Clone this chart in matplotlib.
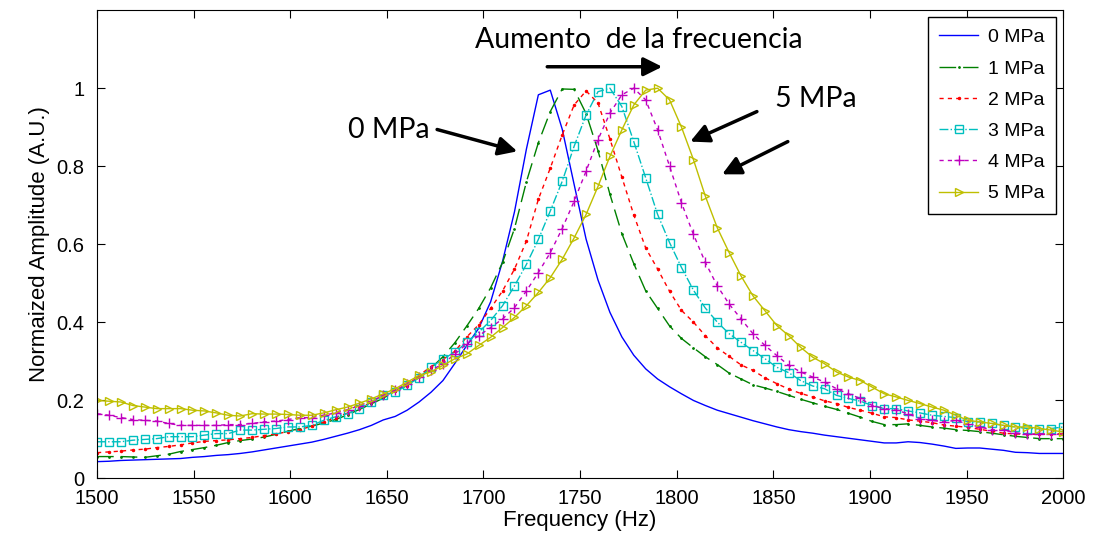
import numpy as np
import matplotlib
matplotlib.use("Agg")
import matplotlib.pyplot as plt

plt.rcParams["font.family"] = ["Liberation Sans", "DejaVu Sans"]

# frequency sweep (82 samples, 1500-2000 Hz)
freq = np.linspace(1500, 2000, 82)

amp_0mpa = [0.042, 0.043, 0.045, 0.046, 0.047, 0.048, 0.049, 0.050, 0.053, 0.055,
            0.058, 0.060, 0.063, 0.067, 0.072, 0.077, 0.082, 0.087, 0.092, 0.099,
            0.107, 0.115, 0.124, 0.135, 0.149, 0.158, 0.174, 0.195, 0.220, 0.250,
            0.294, 0.340, 0.384, 0.452, 0.556, 0.683, 0.844, 0.983, 0.995, 0.895,
            0.753, 0.613, 0.508, 0.425, 0.362, 0.315, 0.280, 0.254, 0.234, 0.216,
            0.199, 0.186, 0.174, 0.165, 0.156, 0.147, 0.139, 0.131, 0.124, 0.119,
            0.115, 0.110, 0.106, 0.102, 0.098, 0.094, 0.090, 0.090, 0.093, 0.091,
            0.087, 0.082, 0.076, 0.077, 0.077, 0.074, 0.071, 0.066, 0.065, 0.063,
            0.063, 0.063]

amp_1mpa = [0.055, 0.055, 0.055, 0.054, 0.053, 0.057, 0.061, 0.068, 0.073, 0.078,
            0.084, 0.091, 0.096, 0.100, 0.105, 0.112, 0.120, 0.127, 0.133, 0.141,
            0.150, 0.162, 0.176, 0.190, 0.205, 0.222, 0.239, 0.258, 0.282, 0.311,
            0.347, 0.390, 0.435, 0.488, 0.553, 0.640, 0.760, 0.860, 0.940, 0.998,
            0.997, 0.935, 0.840, 0.728, 0.627, 0.550, 0.480, 0.435, 0.390, 0.358,
            0.334, 0.311, 0.291, 0.269, 0.254, 0.239, 0.231, 0.222, 0.212, 0.202,
            0.193, 0.184, 0.176, 0.166, 0.156, 0.145, 0.137, 0.137, 0.139, 0.135,
            0.131, 0.128, 0.124, 0.122, 0.119, 0.115, 0.111, 0.107, 0.104, 0.101,
            0.101, 0.101]

amp_2mpa = [0.065, 0.067, 0.069, 0.072, 0.074, 0.078, 0.081, 0.085, 0.090, 0.094,
            0.096, 0.098, 0.101, 0.104, 0.109, 0.113, 0.119, 0.124, 0.133, 0.144,
            0.155, 0.167, 0.179, 0.194, 0.210, 0.223, 0.237, 0.263, 0.286, 0.304,
            0.325, 0.362, 0.393, 0.435, 0.480, 0.536, 0.608, 0.715, 0.795, 0.880,
            0.957, 0.993, 0.962, 0.870, 0.772, 0.675, 0.590, 0.536, 0.479, 0.430,
            0.400, 0.365, 0.334, 0.312, 0.290, 0.276, 0.257, 0.242, 0.228, 0.217,
            0.208, 0.198, 0.191, 0.181, 0.174, 0.166, 0.157, 0.155, 0.149, 0.146,
            0.142, 0.136, 0.133, 0.130, 0.125, 0.120, 0.115, 0.113, 0.112, 0.112,
            0.113, 0.114]

amp_3mpa = [0.093, 0.093, 0.093, 0.097, 0.099, 0.101, 0.106, 0.106, 0.106, 0.110,
            0.114, 0.114, 0.123, 0.123, 0.125, 0.127, 0.131, 0.131, 0.135, 0.148,
            0.157, 0.165, 0.178, 0.195, 0.212, 0.220, 0.238, 0.257, 0.284, 0.305,
            0.323, 0.348, 0.374, 0.404, 0.442, 0.493, 0.548, 0.612, 0.685, 0.761,
            0.851, 0.931, 0.991, 1.000, 0.953, 0.863, 0.770, 0.676, 0.604, 0.540,
            0.482, 0.436, 0.400, 0.370, 0.348, 0.327, 0.306, 0.284, 0.270, 0.250,
            0.236, 0.229, 0.212, 0.204, 0.197, 0.186, 0.178, 0.178, 0.172, 0.167,
            0.161, 0.158, 0.155, 0.144, 0.144, 0.140, 0.135, 0.131, 0.127, 0.126,
            0.127, 0.131]

amp_4mpa = [0.165, 0.161, 0.155, 0.150, 0.148, 0.146, 0.140, 0.135, 0.135, 0.135,
            0.135, 0.137, 0.137, 0.140, 0.144, 0.146, 0.150, 0.155, 0.155, 0.161,
            0.167, 0.175, 0.186, 0.197, 0.212, 0.225, 0.242, 0.259, 0.276, 0.293,
            0.318, 0.344, 0.365, 0.386, 0.408, 0.437, 0.480, 0.527, 0.578, 0.640,
            0.710, 0.787, 0.868, 0.936, 0.983, 1.000, 0.970, 0.893, 0.800, 0.706,
            0.625, 0.553, 0.493, 0.446, 0.408, 0.370, 0.340, 0.314, 0.289, 0.272,
            0.259, 0.246, 0.229, 0.216, 0.204, 0.186, 0.178, 0.174, 0.165, 0.152,
            0.148, 0.144, 0.148, 0.138, 0.131, 0.124, 0.123, 0.116, 0.112, 0.114,
            0.112, 0.112]

amp_5mpa = [0.199, 0.197, 0.195, 0.186, 0.182, 0.178, 0.178, 0.178, 0.174, 0.172,
            0.167, 0.161, 0.159, 0.165, 0.164, 0.164, 0.163, 0.161, 0.161, 0.167,
            0.175, 0.182, 0.192, 0.203, 0.216, 0.229, 0.246, 0.263, 0.272, 0.289,
            0.306, 0.318, 0.340, 0.361, 0.386, 0.412, 0.442, 0.476, 0.514, 0.561,
            0.616, 0.676, 0.748, 0.825, 0.893, 0.957, 0.995, 1.000, 0.970, 0.900,
            0.817, 0.723, 0.642, 0.578, 0.518, 0.467, 0.429, 0.391, 0.365, 0.335,
            0.310, 0.293, 0.272, 0.259, 0.250, 0.233, 0.216, 0.208, 0.199, 0.191,
            0.182, 0.174, 0.161, 0.148, 0.144, 0.140, 0.135, 0.131, 0.131, 0.127,
            0.123, 0.118]

labels = ["0 MPa", "1 MPa", "2 MPa", "3 MPa", "4 MPa", "5 MPa"]

fig, ax = plt.subplots(figsize=(11.04, 5.38), dpi=100)
fig.subplots_adjust(left=0.0879, right=0.963, bottom=0.1115, top=0.981)

ax.plot(freq, amp_0mpa, color="b", lw=1.0, label=labels[0])
ax.plot(freq, amp_1mpa, color=(0, 0.5, 0), lw=1.0, ls=(0, (12, 5)),
        marker=".", ms=2, label=labels[1])
ax.plot(freq, amp_2mpa, color="r", lw=1.0, ls=(0, (3, 3)),
        marker=".", ms=3, label=labels[2])
ax.plot(freq, amp_3mpa, color=(0, 0.75, 0.75), lw=1.0, ls="-.",
        marker="s", ms=6, mfc="none", mew=1.0, label=labels[3])
ax.plot(freq, amp_4mpa, color=(0.75, 0, 0.75), lw=1.0, ls=(0, (3, 3)),
        marker="+", ms=7, mew=1.0, label=labels[4])
ax.plot(freq, amp_5mpa, color=(0.75, 0.75, 0), lw=1.0, ls="-",
        marker=">", ms=6, mfc="none", mew=1.0, label=labels[5])

ax.set_xlim(1500, 2000)
ax.set_ylim(0, 1.2)
ax.set_xticks(np.arange(1500, 2001, 50))
ax.set_yticks([0, 0.2, 0.4, 0.6, 0.8, 1])
ax.set_yticklabels(["0", "0.2", "0.4", "0.6", "0.8", "1"])
ax.tick_params(direction="in", top=True, right=True, length=6, labelsize=14.5)
ax.tick_params(axis="x", pad=8)
ax.tick_params(axis="y", pad=9)
ax.set_xlabel("Frequency (Hz)", fontsize=16, labelpad=1)
ax.set_ylabel("Normaized Amplitude (A.U.)", fontsize=16, labelpad=5)

leg = ax.legend(loc="upper right", fontsize=14, handlelength=2.0,
                handletextpad=0.5, fancybox=False, edgecolor="black",
                framealpha=1, borderaxespad=0.35, labelspacing=0.7,
                borderpad=0.6)
leg.get_frame().set_linewidth(1.0)

# annotations
afont = dict(family=["Lato", "DejaVu Sans"], fontsize=20.5)
arrow = dict(arrowstyle="-|>", color="black", lw=2.5, mutation_scale=28,
             shrinkA=0, shrinkB=0)

ax.text(1780.5, 1.124, "Aumento  de la frecuencia", ha="center", va="center", **afont)
ax.annotate("", xy=(1792.5, 1.055), xytext=(1733, 1.055), arrowprops=arrow)

ax.text(1630, 0.894, "0 MPa", ha="left", va="center", **afont)
ax.annotate("", xy=(1717.5, 0.838), xytext=(1676, 0.894), arrowprops=arrow)

ax.text(1851, 0.971, "5 MPa", ha="left", va="center", **afont)
ax.annotate("", xy=(1807, 0.863), xytext=(1841.5, 0.94), arrowprops=arrow)
ax.annotate("", xy=(1823.5, 0.779), xytext=(1857.5, 0.863), arrowprops=arrow)

plt.savefig("out.png", dpi=100)
plt.close()
